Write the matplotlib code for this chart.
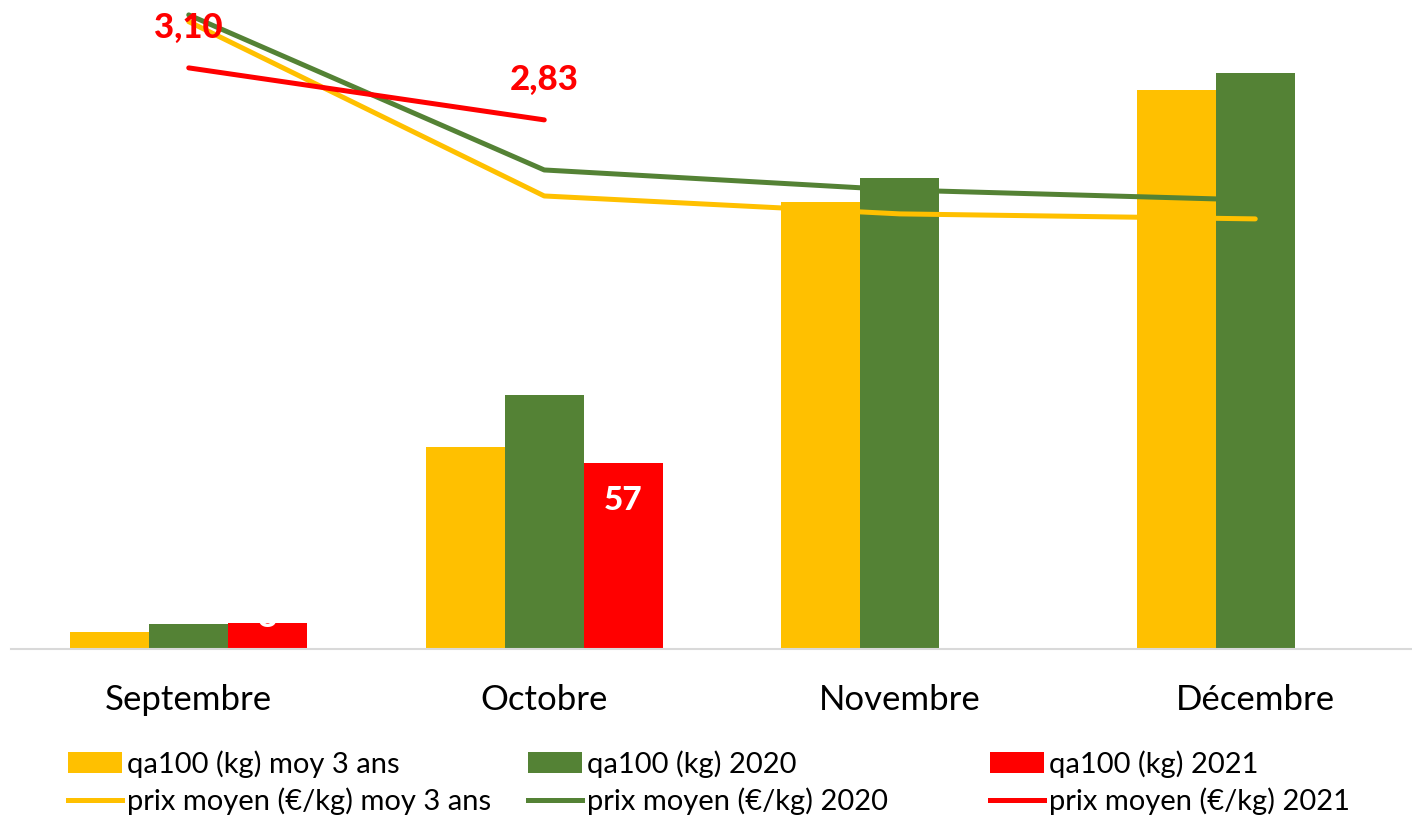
import numpy as np
import matplotlib
matplotlib.use('Agg')
import matplotlib.pyplot as plt
from matplotlib.patches import Patch
from matplotlib.lines import Line2D

plt.rcParams['font.family'] = ['Lato', 'DejaVu Sans']

# data
mois = ['Septembre', 'Octobre', 'Novembre', 'Décembre']
qa_moy3 = [5.2, 62, 137, 171.5]
qa_2020 = [7.7, 78, 144.5, 176.7]
qa_2021 = [8, 57, np.nan, np.nan]
prix_moy3 = [3.34, 2.435, 2.342, 2.316]
prix_2020 = [3.375, 2.57, 2.466, 2.414]
prix_2021 = [3.10, 2.83, np.nan, np.nan]

c_jaune = '#FFC000'
c_vert = '#548235'
c_rouge = '#FF0000'

W, H = 1412, 817
fig = plt.figure(figsize=(W / 100, H / 100), dpi=100)
ax = fig.add_axes([11 / W, 1 - 649 / H, 1422 / W, 652 / H])

x = np.arange(len(mois))
bw = 0.222
ax.bar(x - bw, qa_moy3, bw, color=c_jaune, zorder=2)
ax.bar(x, qa_2020, bw, color=c_vert, zorder=2)
ax.bar(x + bw, qa_2021, bw, color=c_rouge, zorder=2)
ax.set_xlim(-0.5, 3.5)
ax.set_ylim(0, 200)

# white labels in the red bars (short bar: label pushed up, like excel does)
for xi, v in zip(x, qa_2021):
    if not np.isnan(v):
        off = -27 if v > 20 else 4
        ax.annotate('%d' % v, (xi + bw, v), xytext=(0, off), textcoords='offset points',
                    ha='center', va='center', color='white', fontsize=24, fontweight='black', zorder=3)

for s in ['top', 'left', 'right']:
    ax.spines[s].set_visible(False)
ax.spines['bottom'].set_color('#d9d9d9')
ax.spines['bottom'].set_linewidth(1.5)
ax.set_yticks([])
ax.set_xticks(x)
ax.set_xticklabels(mois, fontsize=25)
ax.tick_params(axis='x', length=0, pad=25)

ax2 = ax.twinx()
ax2.set_ylim(0.083, 3.468)
ax2.plot(x, prix_moy3, color=c_jaune, lw=3.6, solid_capstyle='round', zorder=4)
ax2.plot(x, prix_2020, color=c_vert, lw=3.6, solid_capstyle='round', zorder=4)
ax2.plot(x, prix_2021, color=c_rouge, lw=3.6, solid_capstyle='round', zorder=4)
for xi, v in zip(x, prix_2021):
    if not np.isnan(v):
        ax2.annotate(('%.2f' % v).replace('.', ','), (xi, v), xytext=(0, 29), textcoords='offset points',
                     ha='center', va='center', color=c_rouge, fontsize=25, fontweight='black', zorder=6)
ax2.axis('off')
ax.set_zorder(1)
ax2.set_zorder(2)

# legend, three columns placed by hand
cols = [
    ('qa100 (kg) moy 3 ans', 'prix moyen (€/kg) moy 3 ans', c_jaune, 68),
    ('qa100 (kg) 2020', 'prix moyen (€/kg) 2020', c_vert, 528),
    ('qa100 (kg) 2021', 'prix moyen (€/kg) 2021', c_rouge, 990),
]
for lab_b, lab_l, c, px in cols:
    h = [Patch(facecolor=c), Line2D([], [], color=c, lw=3.6)]
    fig.legend(h, [lab_b, lab_l], loc='upper left', bbox_to_anchor=(px / W, 1 - 750 / H),
               frameon=False, fontsize=21, handlelength=1.85, handletextpad=0.17,
               labelspacing=0.33, borderaxespad=0, borderpad=0)

fig.savefig('out.png', dpi=100)
